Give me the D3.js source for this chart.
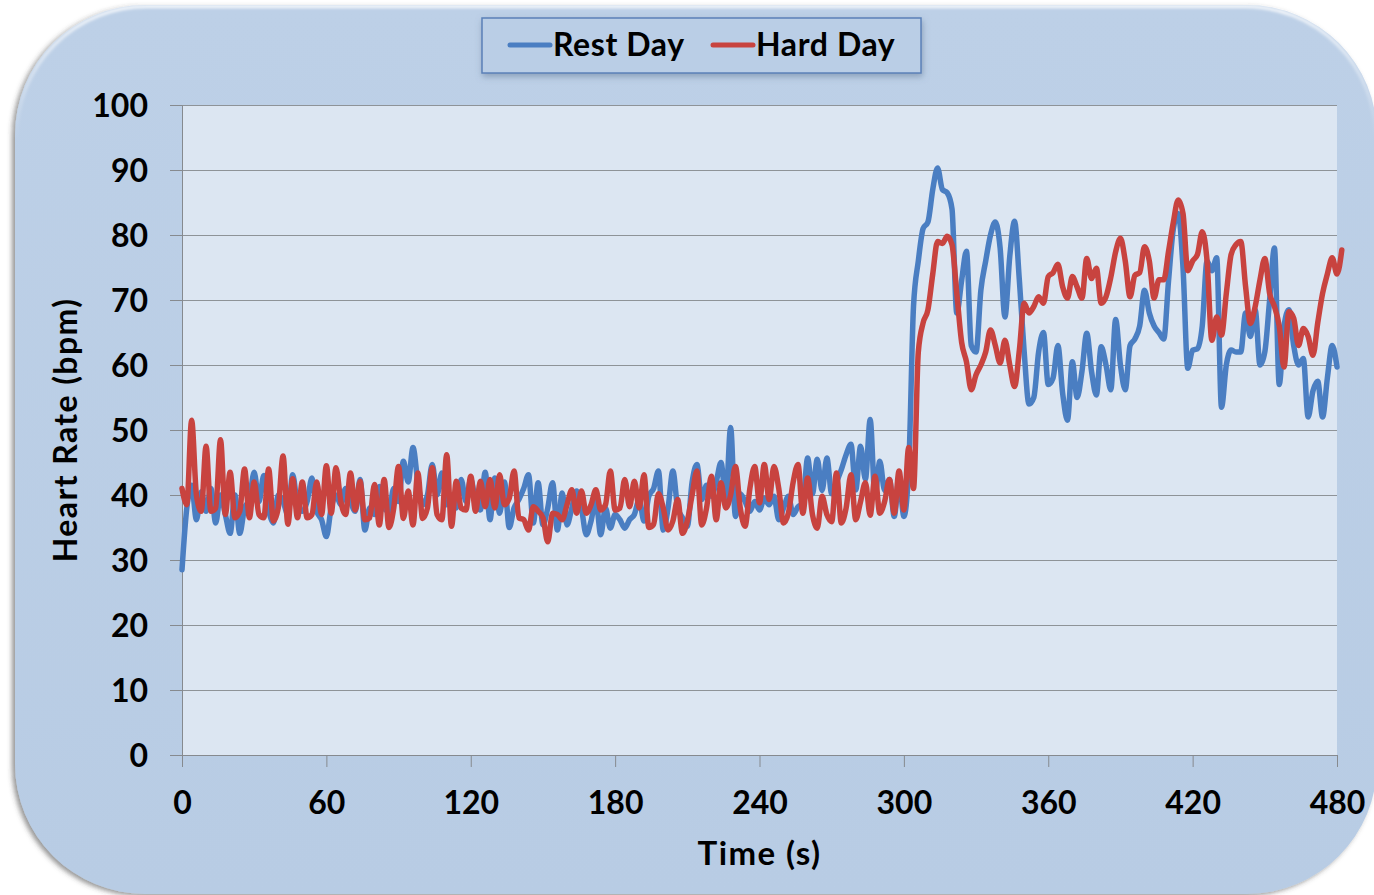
<!DOCTYPE html>
<html>
<head>
<meta charset="utf-8">
<script src="https://cdn.jsdelivr.net/npm/d3@7"></script>
<style>
  html, body { margin: 0; padding: 0; background: #ffffff; }
  svg { display: block; }
  text { font-family: Lato, "Open Sans", sans-serif; font-weight: 700; fill: #000; }
</style>
</head>
<body>
<svg id="chart" width="1374" height="895"></svg>
<script>
// Heart rate readings, one every 2 seconds from 0 to 480 s
const sampleStep = 2;

const restDay = [
  28.5, 38, 41.5, 36.2, 40.5, 37.5, 41, 35.7, 40, 37, 34.1, 40, 34.1, 38, 39.3, 43.5, 39, 43, 37.7, 35.7,
  40, 39, 37, 43.1, 38.5, 37.5, 39, 42.6, 37.5, 36.2, 33.6, 38, 40, 38.5, 41, 39, 37.5, 42.4, 34.6, 38,
  37, 41.3, 38, 37.5, 41, 39, 45.2, 42, 47.3, 42, 38.5, 40, 44.7, 40, 43.4, 38.5, 40, 38, 42.4, 39,
  42.4, 39, 37.7, 43.5, 36.2, 42.6, 37.2, 42, 35, 38, 39.3, 41, 43.1, 35.7, 41.9, 35.4, 38, 41.9, 34.6, 40.3,
  35.4, 38, 40.6, 38, 33.9, 36, 39.3, 33.9, 38, 34.9, 37, 36.2, 34.9, 36.2, 37, 39.3, 36, 39.8, 41, 43.7,
  34.6, 38, 43.7, 38, 36.5, 35.2, 42, 44.7, 39.3, 41.5, 39.8, 42, 45, 39.3, 50.4, 36.7, 40.2, 39, 37.5, 39,
  37.7, 39.5, 38.5, 39.8, 36.2, 38, 39.8, 37, 38.2, 38.7, 45.7, 40.2, 45.5, 40.7, 45.7, 40.2, 42, 43.9, 46.2, 47.8,
  40.8, 47.5, 42.4, 51.6, 39.8, 45.2, 40.7, 42.4, 36.7, 42.5, 36.7, 44, 69, 76, 81, 82, 87, 90.3, 87, 86.5,
  84, 68, 73, 77.5, 63, 62, 71.5, 76, 80, 82, 78, 67.4, 76.7, 82.1, 73, 62, 54, 55, 62, 65,
  57, 58, 63, 55.6, 51.5, 60.5, 55, 59, 64.9, 59, 55.4, 62.8, 60, 56.2, 67, 60, 56.2, 63, 64, 66,
  71.5, 68, 66, 65, 64, 73, 81, 83.3, 75, 59.5, 62.3, 62.5, 66, 76, 74.5, 76.5, 53.5, 60, 62.3, 62,
  62, 68, 64.4, 68.5, 60, 62, 70, 78, 57, 66, 68.5, 63, 60, 61, 52, 56, 57.5, 52, 58, 63,
  59.7
];

const hardDay = [
  41, 38.5, 51.5, 40, 37.5, 47.5, 37.5, 38, 48.5, 37, 43.5, 36.5, 37.5, 44, 36.5, 42, 37, 36.5, 44, 36,
  38, 46, 35.5, 42.5, 36.5, 42, 36.5, 37, 42, 37, 44.5, 37.2, 44.2, 39, 37, 43.4, 37.7, 42.1, 36.2, 36.5,
  41.6, 35.4, 42.4, 35, 38, 44.4, 36.4, 40.6, 35.4, 43.4, 36.4, 38, 44.2, 37, 36.2, 46.2, 35.2, 42.1, 38, 37.7,
  42.9, 37.5, 42.1, 38.2, 42.4, 38, 43.1, 38.5, 39.5, 43.7, 36.5, 36.2, 34.6, 38.2, 37.5, 36.5, 32.8, 37.2, 37, 36.2,
  38.5, 40.8, 37.2, 40.6, 37.2, 38.5, 40.8, 37.7, 38.5, 43.7, 37.7, 38, 42.4, 38.2, 42.1, 38, 43.1, 35, 35.5, 40.2,
  38, 34.6, 36, 39.3, 34.1, 36, 40, 43.7, 35.4, 38, 42.9, 36.2, 41.9, 38, 40, 44.4, 38, 35.2, 41, 44.4,
  38.8, 44.7, 39.3, 44.4, 41, 35.7, 37.2, 42, 44.7, 37.2, 42.6, 37, 34.9, 39.8, 37, 35.9, 43.4, 35.7, 38, 43.1,
  36.2, 39, 41.9, 36.9, 42.9, 37.2, 39, 42.4, 37.2, 43.7, 37.7, 47.3, 41, 62, 66.5, 68.5, 74, 79, 78.7, 79.8,
  78.5, 71, 63.5, 60.5, 56.2, 58.5, 60, 62, 65.4, 63, 60.3, 63.8, 60, 56.7, 62.3, 69.5, 68, 69, 70.5, 69.5,
  73.6, 74.2, 75.5, 72, 70.3, 73.6, 72, 70.3, 76.4, 73.3, 74.9, 69.5, 70.5, 73.5, 77.4, 79.5, 76, 70.5, 73.8, 74.2,
  78.2, 76, 70.3, 73.1, 73.1, 77.5, 82, 85.4, 83.3, 74.5, 76, 77, 80.5, 76, 63.8, 67.4, 64.6, 71, 77, 78.5,
  79, 72.1, 66.4, 69, 73.1, 76.4, 71, 69, 66, 59.7, 68.2, 67.2, 63, 65.6, 64.4, 61.5, 66.5, 71, 74, 76.5,
  74, 77.7
];

const seriesNames = ["Rest Day", "Hard Day"];
const seriesColors = ["#4a7ec2", "#c8433f"];
const xTicks = [0, 60, 120, 180, 240, 300, 360, 420, 480];
const yTicks = [0, 10, 20, 30, 40, 50, 60, 70, 80, 90, 100];
const xTitle = "Time (s)";
const yTitle = "Heart Rate (bpm)";

const svg = d3.select("#chart");

// plot rectangle
const plot = { left: 182, right: 1337, top: 105, bottom: 755 };

const x = d3.scaleLinear().domain([0, 480]).range([plot.left, plot.right]);
const y = d3.scaleLinear().domain([0, 100]).range([plot.bottom, plot.top]);

// ---------- filters ----------
const defs = svg.append("defs");
const panelShadow = defs.append("filter").attr("id", "panelShadow")
  .attr("x", "-5%").attr("y", "-5%").attr("width", "110%").attr("height", "110%");
panelShadow.append("feDropShadow").attr("dx", -3).attr("dy", 2).attr("stdDeviation", 2.5)
  .attr("flood-color", "#3c3c3c").attr("flood-opacity", 0.55);

const legendShadow = defs.append("filter").attr("id", "legendShadow")
  .attr("x", "-10%").attr("y", "-30%").attr("width", "120%").attr("height", "170%");
legendShadow.append("feDropShadow").attr("dx", 1).attr("dy", 3).attr("stdDeviation", 3)
  .attr("flood-color", "#5a6f8c").attr("flood-opacity", 0.5);

const glow = defs.append("filter").attr("id", "edgeGlow");
glow.append("feGaussianBlur").attr("stdDeviation", 1.5);

const panelGrad = defs.append("linearGradient").attr("id", "panelGrad")
  .attr("x1", 0).attr("y1", 0).attr("x2", 0).attr("y2", 1);
panelGrad.append("stop").attr("offset", "0%").attr("stop-color", "#bdd0e7");
panelGrad.append("stop").attr("offset", "100%").attr("stop-color", "#b8cce4");

const topGlow = defs.append("linearGradient").attr("id", "topGlow")
  .attr("x1", 0).attr("y1", 0).attr("x2", 0).attr("y2", 1);
topGlow.append("stop").attr("offset", "0%").attr("stop-color", "#ffffff").attr("stop-opacity", 0.9);
topGlow.append("stop").attr("offset", "15%").attr("stop-color", "#ffffff").attr("stop-opacity", 0.0);

// ---------- rounded panel ----------
const panel = { x: 15, y: 5, w: 1362, h: 889, r: 130 };
svg.append("rect")
  .attr("x", panel.x).attr("y", panel.y).attr("width", panel.w).attr("height", panel.h)
  .attr("rx", panel.r).attr("ry", panel.r)
  .attr("fill", "url(#panelGrad)")
  .attr("filter", "url(#panelShadow)");
svg.append("rect")
  .attr("x", panel.x + 1.5).attr("y", panel.y + 1.5).attr("width", panel.w - 3).attr("height", panel.h - 3)
  .attr("rx", panel.r).attr("ry", panel.r)
  .attr("fill", "none")
  .attr("stroke", "url(#topGlow)").attr("stroke-width", 3)
  .attr("filter", "url(#edgeGlow)");

// ---------- plot area ----------
svg.append("rect")
  .attr("x", plot.left).attr("y", plot.top)
  .attr("width", plot.right - plot.left).attr("height", plot.bottom - plot.top)
  .attr("fill", "#dce6f2");

// horizontal gridlines
svg.append("g")
  .attr("transform", `translate(${plot.left},0)`)
  .call(d3.axisLeft(y).tickValues(yTicks).tickSize(-(plot.right - plot.left)).tickFormat(""))
  .call(g => g.select(".domain").remove())
  .call(g => g.selectAll("line").attr("stroke", "#8e9398").attr("stroke-width", 1));

// y axis
const yAxis = svg.append("g")
  .attr("transform", `translate(${plot.left},0)`)
  .call(d3.axisLeft(y).tickValues(yTicks).tickSize(12).tickSizeOuter(0).tickPadding(22));
yAxis.select(".domain").attr("stroke", "#868a8f");
yAxis.selectAll(".tick line").attr("stroke", "#868a8f");
yAxis.selectAll(".tick text")
  .attr("font-family", "Lato, 'Open Sans', sans-serif")
  .attr("font-weight", 700).attr("font-size", 32).attr("fill", "#000")
  .attr("dy", "0.36em");

// x axis
const xAxis = svg.append("g")
  .attr("transform", `translate(0,${plot.bottom})`)
  .call(d3.axisBottom(x).tickValues(xTicks).tickSize(12).tickSizeOuter(0));
xAxis.select(".domain").attr("stroke", "#868a8f");
xAxis.selectAll(".tick line").attr("stroke", "#868a8f");
xAxis.selectAll(".tick text")
  .attr("font-family", "Lato, 'Open Sans', sans-serif")
  .attr("font-weight", 700).attr("font-size", 32).attr("fill", "#000")
  .attr("y", 59).attr("dy", 0);

// axis titles
svg.append("text")
  .attr("x", (plot.left + plot.right) / 2).attr("y", 865)
  .attr("text-anchor", "middle").attr("font-size", 33)
  .attr("letter-spacing", 1.4)
  .text(xTitle);
svg.append("text")
  .attr("transform", `translate(77,${(plot.top + plot.bottom) / 2}) rotate(-90)`)
  .attr("text-anchor", "middle").attr("font-size", 32)
  .attr("letter-spacing", 1.4)
  .text(yTitle);

// ---------- series ----------
const line = d3.line()
  .x((d, i) => x(i * sampleStep))
  .y(d => y(d))
  .curve(d3.curveMonotoneX);

[restDay, hardDay].forEach((vals, k) => {
  svg.append("path")
    .datum(vals)
    .attr("d", line)
    .attr("fill", "none")
    .attr("stroke", seriesColors[k])
    .attr("stroke-width", 5.5)
    .attr("stroke-linejoin", "round")
    .attr("stroke-linecap", "round");
});

// ---------- legend ----------
const legend = svg.append("g");
legend.append("rect")
  .attr("x", 482).attr("y", 18).attr("width", 439).attr("height", 55)
  .attr("fill", "#bacee6").attr("stroke", "#5b80b8").attr("stroke-width", 1.5)
  .attr("filter", "url(#legendShadow)");
const legendX = [510, 713];
seriesNames.forEach((name, k) => {
  legend.append("line")
    .attr("x1", legendX[k]).attr("x2", legendX[k] + 40)
    .attr("y1", 45).attr("y2", 45)
    .attr("stroke", seriesColors[k]).attr("stroke-width", 5).attr("stroke-linecap", "round");
  legend.append("text")
    .attr("x", legendX[k] + 43).attr("y", 56)
    .attr("font-size", 32).attr("letter-spacing", 0.6)
    .text(name);
});
</script>
</body>
</html>
